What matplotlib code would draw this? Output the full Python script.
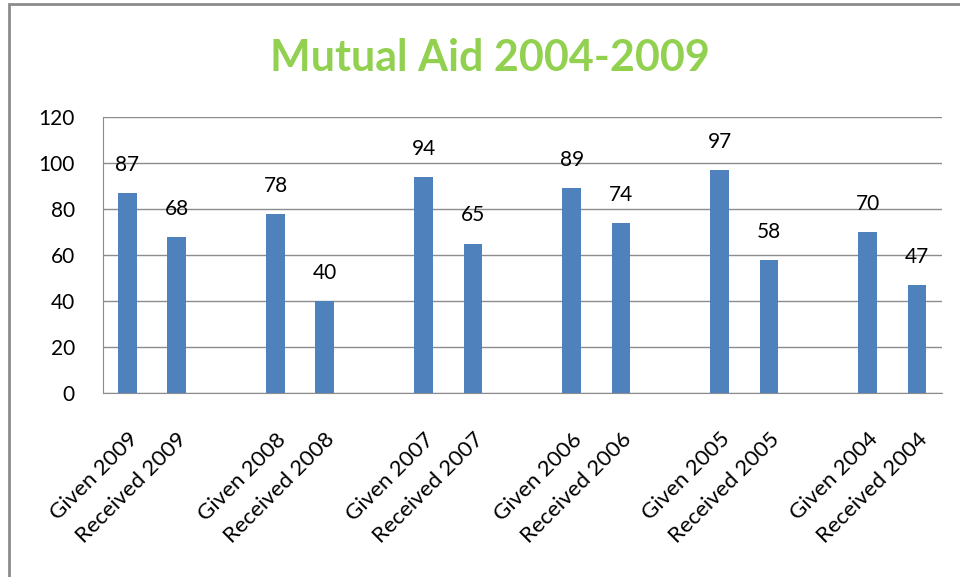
import matplotlib.pyplot as plt
from matplotlib.patches import Rectangle

years = ['2009', '2008', '2007', '2006', '2005', '2004']
given = [87, 78, 94, 89, 97, 70]
received = [68, 40, 65, 74, 58, 47]
y_ticks = [0, 20, 40, 60, 80, 100, 120]

plt.rcParams['font.family'] = ['Lato', 'DejaVu Sans']

fig = plt.figure(figsize=(9.6, 5.77), dpi=100)
ax = fig.add_axes([0.107, 0.319, 0.874, 0.478])

# outer chart frame (cut off at right and bottom like the screenshot)
fig.patches.append(Rectangle((0.009, -0.05), 1.1, 1.043, transform=fig.transFigure,
                             fill=False, edgecolor='#8c8c8c', linewidth=2.0))

# one empty slot between each Given/Received pair
positions = []
labels = []
values = []
for i, yr in enumerate(years):
    positions += [3 * i, 3 * i + 1]
    labels += ['Given ' + yr, 'Received ' + yr]
    values += [given[i], received[i]]

bars = ax.bar(positions, values, width=0.38, color='#4F81BD', zorder=3)
for p, v in zip(positions, values):
    ax.annotate(str(v), (p, v), xytext=(0, 13), textcoords='offset points',
                ha='center', va='bottom', fontsize=15, color='black')

ax.set_xlim(-0.5, 16.5)
ax.set_ylim(0, 120)
ax.set_yticks(y_ticks)
ax.set_yticklabels([str(t) for t in y_ticks], fontsize=15)
ax.set_xticks(positions)
ax.set_xticklabels(labels, rotation=45, ha='right', rotation_mode='anchor', fontsize=16)
ax.tick_params(axis='both', length=0)
ax.tick_params(axis='y', pad=20)
ax.tick_params(axis='x', pad=26)

ax.grid(axis='y', color='#8c8c8c', linewidth=1.0, zorder=0)
for s in ['top', 'right']:
    ax.spines[s].set_visible(False)
ax.spines['left'].set_color('#8c8c8c')
ax.spines['bottom'].set_color('#8c8c8c')

fig.text(0.51, 0.9, 'Mutual Aid 2004-2009', ha='center', va='center',
         fontsize=31, fontweight='bold', color='#92D050')

fig.savefig('out.png', dpi=100)
